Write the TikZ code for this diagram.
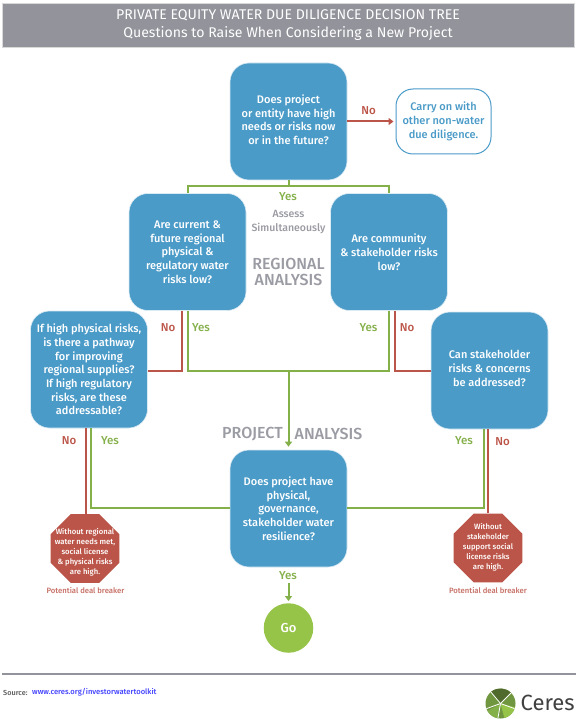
\documentclass[tikz,border=0pt]{standalone}
\usepackage{fontspec}
\setmainfont{Fira Sans}[UprightFont={* Medium}]
\newfontfamily\lightfont{Fira Sans}
\usetikzlibrary{arrows.meta,shapes.geometric,calc}
\definecolor{hdr}{HTML}{92939B}
\definecolor{cblue}{HTML}{4B9BC8}
\definecolor{cgreen}{HTML}{84B04A}
\definecolor{cred}{HTML}{BC5549}
\definecolor{cgo}{HTML}{96C448}
\definecolor{cgray}{HTML}{9A9BA3}
\tikzset{
  q/.style={draw=white!80!cblue,line width=.6pt,fill=cblue,rounded corners=19pt,minimum width=117pt,minimum height=117pt,inner sep=0pt,qtext},
  qtext/.style={text=white,align=center,font=\fontsize{11}{13.7}\selectfont,inner sep=0pt},
  ylink/.style={draw=cgreen,line width=2pt},
  nlink/.style={draw=cred,line width=2pt},
  ylab/.style={text=cgreen,font=\fontsize{11.5}{13}\selectfont,inner sep=0pt},
  nlab/.style={text=cred,font=\fontsize{11.5}{13}\selectfont,inner sep=0pt},
  seclab/.style={text=cgray,align=center,font=\fontsize{16}{16}\selectfont,inner sep=0pt},
  octa/.style={regular polygon,regular polygon sides=8,fill=cred,draw=none,minimum size=74.5pt,inner sep=0pt},
  octext/.style={text=white,align=center,font=\fontsize{7.7}{10.1}\selectfont,inner sep=0pt},
  deal/.style={text=cred!85!white,font=\fontsize{7.7}{9}\selectfont,inner sep=0pt},
  tip/.style={-{Triangle[length=5pt,width=7pt]}},
  logoline/.style={draw=white,line width=.8pt}
}
\begin{document}
\begin{tikzpicture}[x=1pt,y=-1pt]
\useasboundingbox (0,0) rectangle (576,719);
\fill[white] (0,0) rectangle (576,719);
\node[draw=black!15,fill=hdr,minimum width=572pt,minimum height=44pt,inner sep=0pt,text=white,align=center,font=\lightfont\fontsize{14.1}{18}\selectfont] (head) at (288,25) {PRIVATE EQUITY WATER DUE DILIGENCE DECISION TREE\\Questions to Raise When Considering a New Project};
\node[q] (top) at (288.5,121.5) {};
\node[qtext] (toptext) at (288.5,119.8) {Does project\\or entity have high\\needs or risks now\\or in the future?};
\node[draw=cblue,line width=1pt,fill=white,rounded corners=17pt,text=cblue,align=center,font=\fontsize{11}{13.7}\selectfont,inner sep=0pt,minimum width=95pt,minimum height=65pt] (carry) at (443.5,121.5) {Carry on with\\other non-water\\due diligence.};
\node[q] (reg) at (187.5,252) {Are current \&\\future regional\\physical \&\\regulatory water\\risks low?};
\node[q] (com) at (389,252) {Are community\\\& stakeholder risks\\low?};
\node[q] (ifh) at (89,369.5) {If high physical risks,\\is there a pathway\\for improving\\regional supplies?\\If high regulatory\\risks, are these\\addressable?};
\node[q] (can) at (489.5,370.5) {};
\node[qtext] (cantext) at (489.5,368.3) {Can stakeholder\\risks \& concerns\\be addressed?};
\node[q] (res) at (288.5,508.5) {Does project have\\physical,\\governance,\\stakeholder water\\resilience?};
\node[octa] (oa) at (85,548.5) {};
\node[octext] (oatext) at (85,552) {Without regional\\water needs met,\\social license\\\& physical risks\\are high.};
\node[octa] (ob) at (488,548) {};
\node[octext] (obtext) at (488,547.5) {Without\\stakeholder\\support social\\license risks\\are high.};
\node[circle,fill=cgo,draw=none,minimum size=49.5pt,inner sep=0pt,text=white,font=\fontsize{13}{15}\selectfont] (go) at (288.5,628) {Go};
% connectors
\coordinate (j0) at (288.5,186);
\coordinate (j1) at (288.5,371);
\coordinate (j2) at (288.5,508);
\coordinate (gotop) at (288.5,583);
\draw[ylink] (top.south) -- (j0);
\draw[ylink] (reg.north) |- (j0) -| (com.north);
\draw[nlink,tip,shorten >=2pt] (top.east) -- (carry.west);
\draw[nlink] ([xshift=-5.5pt]reg.south) |- (ifh.east |- j1);
\draw[nlink] ([xshift=6pt]com.south) |- (can.west |- j1);
\draw[ylink] (reg.south) |- (j1) -| (com.south);
\draw[ylink,tip,shorten >=3pt] (j1) -- (res.north);
\draw[nlink] ([xshift=-3.5pt]ifh.south) -- ([xshift=.5pt]oa.north);
\draw[ylink] ([xshift=1.5pt]ifh.south) |- (res.west |- j2);
\draw[ylink] ([xshift=-6pt]can.south) |- (res.east |- j2);
\draw[nlink] ([xshift=-1.5pt]can.south) -- (ob.north);
\draw[ylink,tip,shorten >=2pt] (gotop) -- (go.north);
% labels
\node[nlab] (l1) at (368.5,111) {No};
\node[ylab] (l2) at (288,197) {Yes};
\node[text=cgray,align=center,font=\fontsize{10.5}{14}\selectfont,inner sep=0pt] (as) at (288.5,222.3) {Assess\\Simultaneously};
\node[seclab] (ra) at (288.5,271.5) {REGIONAL\\ANALYSIS};
\node[seclab] (pa1) at (252.5,434) {PROJECT};
\node[seclab] (pa2) at (328.5,434) {ANALYSIS};
\node[nlab] (n1) at (168,328) {No};
\node[ylab] (y1) at (201,328) {Yes};
\node[ylab] (y2) at (368.5,328) {Yes};
\node[nlab] (n2) at (407,328) {No};
\node[nlab] (n3) at (69,440.5) {No};
\node[ylab] (y3) at (110,440.5) {Yes};
\node[ylab] (y4) at (464,441) {Yes};
\node[nlab] (n4) at (502.5,441.5) {No};
\node[ylab] (y5) at (288,575.5) {Yes};
\node[deal] (d1) at (85.5,590) {Potential deal breaker};
\node[deal] (d2) at (488,590) {Potential deal breaker};
% footer
\draw[draw=hdr,line width=1.5pt] (2,674) -- (576,674);
\node[anchor=west,inner sep=0pt,font=\fontsize{7.3}{9}\selectfont,text=black!65] (src) at (3,692.5) {Source:};
\node[anchor=west,inner sep=0pt,font=\fontsize{7.6}{9}\selectfont,text=blue!75!white] (url) at (32,692.5) {www.ceres.org/investorwatertoolkit};
% logo
\coordinate (lc) at (500.5,703.5);
\fill[cgreen!85!black] (lc) circle (15pt);
\fill[cgo] (lc) -- ++(75:15) arc[start angle=-75,end angle=-15,radius=15pt] -- cycle;
\fill[cgreen] (lc) -- ++(100:15) arc[start angle=-100,end angle=-150,radius=15pt] -- cycle;
\fill[cgreen!60!black] (lc) -- ++(-45:15) arc[start angle=45,end angle=130,radius=15pt] -- cycle;
\foreach \a in {100,20,160,-45,-130} \draw[logoline] (lc) -- ++(\a:15);
\node[anchor=west,inner sep=0pt,font=\lightfont\fontsize{22}{24}\selectfont,text=black!75] (ceres) at (520.5,703) {Ceres};
\end{tikzpicture}
\end{document}
